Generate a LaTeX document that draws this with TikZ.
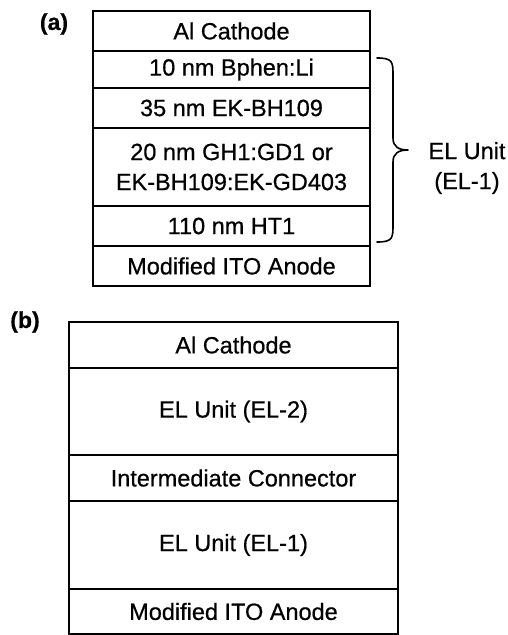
\documentclass[tikz,border=0pt]{standalone}
\usepackage{fontspec}
\setmainfont{Liberation Sans}[FakeBold=0.6]
\begin{document}
\begin{tikzpicture}[x=1pt,y=-1pt,
  layer/.style={draw,line width=2pt,inner sep=0pt,align=center,font=\fontsize{23.5}{30}\selectfont},
  lbl/.style={inner sep=0pt,font=\bfseries\fontsize{23}{27}\selectfont},
  txt/.style={inner sep=0pt,align=center,font=\fontsize{23.5}{30}\selectfont},
  bracepath/.style={line width=1.6pt,line cap=round,line join=round}]
\useasboundingbox (0,0) rectangle (508,635);
% (a)
\node[lbl] (la) at (54,24) {(a)};
\node[layer,minimum width=277pt,minimum height=40pt] (a1) at (231.5,31) {Al Cathode};
\node[layer,minimum width=277pt,minimum height=37pt] (a2) at (231.5,69.5) {10 nm Bphen:Li};
\node[layer,minimum width=277pt,minimum height=40pt] (a3) at (231.5,108) {35 nm EK-BH109};
\node[layer,minimum width=277pt,minimum height=78pt] (a4) at (231.5,167) {20 nm GH1:GD1 or\\EK-BH109:EK-GD403};
\node[layer,minimum width=277pt,minimum height=40pt] (a5) at (231.5,226) {110 nm HT1};
\node[layer,minimum width=277pt,minimum height=40pt] (a6) at (231.5,266) {Modified ITO Anode};
\coordinate (bt) at (377,58);
\coordinate (bm) at (408,150);
\coordinate (bb) at (377,242);
\draw[bracepath] (bt) .. controls (393,58) and (393,62) .. (393,76) -- (393,138)
  .. controls (393,147) and (399,150) .. (bm)
  .. controls (399,150) and (393,153) .. (393,162) -- (393,224)
  .. controls (393,238) and (393,242) .. (bb);
\node[txt] (elu) at (467,168) {EL Unit\\(EL-1)};
% (b)
\node[lbl] (lb) at (25,322) {(b)};
\node[layer,minimum width=329pt,minimum height=46pt] (b1) at (233.5,345) {Al Cathode};
\node[layer,minimum width=329pt,minimum height=87pt] (b2) at (233.5,411.5) {EL Unit (EL-2)};
\node[layer,minimum width=329pt,minimum height=46pt] (b3) at (233.5,478) {Intermediate Connector};
\node[layer,minimum width=329pt,minimum height=88pt] (b4) at (233.5,545) {EL Unit (EL-1)};
\node[layer,minimum width=329pt,minimum height=45pt] (b5) at (233.5,611.5) {Modified ITO Anode};
\end{tikzpicture}
\end{document}
